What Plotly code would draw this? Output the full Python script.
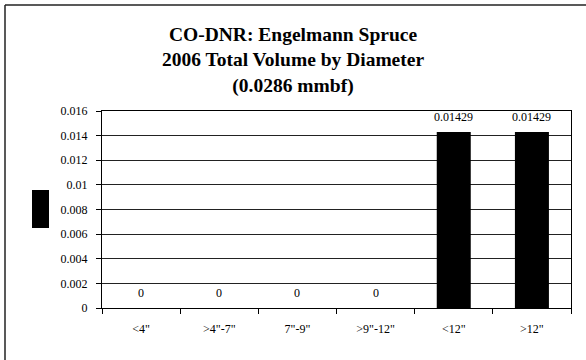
import plotly.graph_objects as go

categories = ['<4"', '>4"-7"', '7"-9"', '>9"-12"', '<12"', '>12"']
values = [0, 0, 0, 0, 0.01429, 0.01429]
labels = ["0", "0", "0", "0", "0.01429", "0.01429"]
ytick_vals = [0, 0.002, 0.004, 0.006, 0.008, 0.01, 0.012, 0.014, 0.016]
ytick_text = ["0", "0.002", "0.004", "0.006", "0.008", "0.01", "0.012", "0.014", "0.016"]
title_lines = ["CO-DNR: Engelmann Spruce", "2006 Total Volume by Diameter", "(0.0286 mmbf)"]

FONT = "Liberation Serif"

fig = go.Figure()
fig.add_trace(go.Bar(
    x=categories, y=values,
    marker=dict(color="black", line=dict(color="black", width=0)),
    width=0.435, showlegend=False, hoverinfo="skip",
))

for c, v, t in zip(categories, values, labels):
    fig.add_annotation(x=c, y=v, text=t, showarrow=False, xref="x", yref="y",
                       yanchor="middle", yshift=15,
                       font=dict(family=FONT, size=12, color="black"))

fig.update_layout(
    width=586, height=360,
    margin=dict(l=102, r=15, t=111, b=52),
    paper_bgcolor="white", plot_bgcolor="white",
    font=dict(family=FONT, color="black", size=12),
    title=dict(text="<br>".join(title_lines), x=0.5, xanchor="center",
               y=1 - 41 / 360, yanchor="top",
               font=dict(family=FONT, size=19.5, color="black", weight="bold")),
    bargap=0.565,
)

fig.update_xaxes(
    showline=True, linecolor="black", linewidth=1, mirror=True,
    ticks="outside", ticklen=5, tickcolor="black", tickson="boundaries",
    showgrid=False, tickfont=dict(family=FONT, size=12, color="black"),
    ticklabelstandoff=10,
)
fig.update_yaxes(
    range=[0, 0.016], tickvals=ytick_vals, ticktext=ytick_text,
    showline=True, linecolor="black", linewidth=1, mirror=True,
    ticks="outside", ticklen=5, tickcolor="black",
    showgrid=True, gridcolor="#222222", gridwidth=1, zeroline=False,
    tickfont=dict(family=FONT, size=12, color="black"),
    ticklabelstandoff=6,
)

# legend key (key only, no text)
fig.add_shape(type="rect", xref="paper", yref="paper",
              x0=(32 - 102) / 469, x1=(49 - 102) / 469,
              y0=(308 - 228) / 197, y1=(308 - 190) / 197,
              fillcolor="black", line=dict(width=0), layer="above")
# chart-area border: top and left edges (right/bottom fall outside the view)
border_x0 = (5 - 102) / 469
border_y_top = (308 - 5) / 197
fig.add_shape(type="line", xref="paper", yref="paper",
              x0=border_x0, x1=(586 - 102) / 469, y0=border_y_top, y1=border_y_top,
              line=dict(color="#222222", width=1.5))
fig.add_shape(type="line", xref="paper", yref="paper",
              x0=border_x0, x1=border_x0, y0=border_y_top, y1=(308 - 360) / 197,
              line=dict(color="#222222", width=1.5))

fig.write_html(
    "out.html", config={"displayModeBar": False},
    post_script=("document.body.style.margin='0';"
                 "document.body.style.overflow='hidden';"
                 "document.documentElement.style.overflow='hidden';"),
)
